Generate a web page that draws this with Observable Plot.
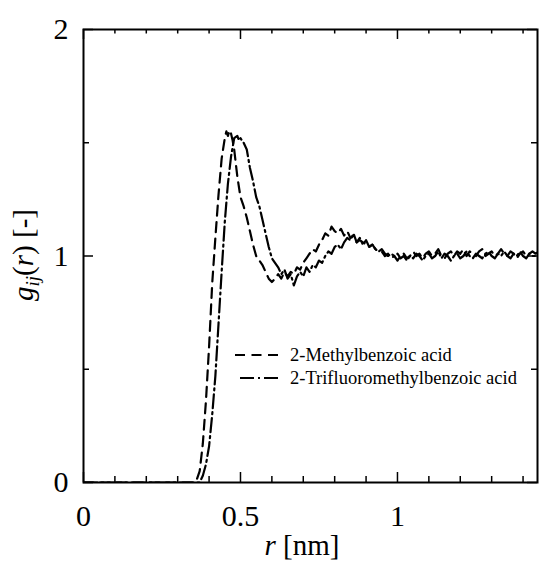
<!DOCTYPE html>
<html><head><meta charset="utf-8">
<script src="https://cdn.jsdelivr.net/npm/d3@7"></script>
<script src="https://cdn.jsdelivr.net/npm/@observablehq/plot@0.6"></script>
<style>body{margin:0;background:#fff}</style>
</head><body><div id="chart"></div>
<script>
const seriesNames = ["2-Methylbenzoic acid", "2-Trifluoromethylbenzoic acid"];

const rMethyl = [0, 0.35, 0.36, 0.37, 0.38, 0.39, 0.40, 0.41, 0.42, 0.43, 0.44, 0.45, 0.455, 0.46, 0.465, 0.47, 0.475, 0.48, 0.49, 0.50, 0.51, 0.52, 0.53, 0.54, 0.55, 0.56, 0.57, 0.58, 0.59, 0.60,
  0.61, 0.62, 0.63, 0.64, 0.65, 0.66, 0.67, 0.68, 0.69, 0.70, 0.71, 0.72, 0.73, 0.74, 0.75, 0.76, 0.77, 0.78, 0.79, 0.80,
  0.81, 0.82, 0.83, 0.84, 0.85, 0.86, 0.87, 0.88, 0.89, 0.90, 0.91, 0.92, 0.93, 0.94, 0.95,
  0.96, 0.97, 0.98, 0.99, 1.00, 1.01, 1.02, 1.03, 1.04, 1.05, 1.06, 1.07, 1.08, 1.09, 1.10, 1.11, 1.12, 1.13, 1.14, 1.15,
  1.16, 1.17, 1.18, 1.19, 1.20, 1.21, 1.22, 1.23, 1.24, 1.25, 1.26, 1.27, 1.28, 1.29, 1.30, 1.31, 1.32, 1.33, 1.34, 1.35,
  1.36, 1.37, 1.38, 1.39, 1.40, 1.41, 1.42, 1.43, 1.44, 1.45];
const gMethyl = [0, 0, 0.01, 0.05, 0.17, 0.36, 0.60, 0.88, 1.08, 1.27, 1.43, 1.52, 1.55, 1.53, 1.555, 1.54, 1.51, 1.47, 1.35, 1.26, 1.22, 1.17, 1.11, 1.05, 1.00, 0.98, 0.96, 0.93, 0.90, 0.885,
  0.90, 0.92, 0.90, 0.93, 0.91, 0.93, 0.92, 0.95, 0.94, 0.97, 0.99, 1.01, 1.03, 1.02, 1.05, 1.07, 1.10, 1.09, 1.13, 1.11,
  1.10, 1.12, 1.09, 1.11, 1.08, 1.09, 1.06, 1.07, 1.06, 1.05, 1.04, 1.05, 1.03, 1.02, 1.02,
  1.00, 1.01, 0.99, 1.00, 0.98, 1.00, 1.01, 0.99, 1.00, 1.02, 1.00, 1.01, 0.99, 1.01, 1.02, 1.00, 1.01, 1.03, 1.00, 0.99,
  1.01, 1.02, 1.00, 1.02, 1.01, 1.03, 1.00, 1.02, 1.01, 1.00, 1.02, 1.03, 1.00, 1.01, 1.02, 1.00, 1.01, 1.03, 1.01, 1.00,
  1.02, 1.01, 0.99, 1.01, 1.02, 1.00, 1.01, 1.02, 1.01, 1.02];

const rTrifluoro = [0, 0.37, 0.38, 0.39, 0.40, 0.41, 0.42, 0.43, 0.44, 0.45, 0.46, 0.47, 0.48, 0.49, 0.495, 0.50, 0.51, 0.52, 0.53, 0.54, 0.55, 0.56, 0.57, 0.58, 0.59, 0.60,
  0.61, 0.62, 0.63, 0.64, 0.65, 0.66, 0.67, 0.68, 0.69, 0.70, 0.71, 0.72, 0.73, 0.74, 0.75, 0.76, 0.77, 0.78, 0.79, 0.80,
  0.81, 0.82, 0.83, 0.84, 0.85, 0.86, 0.87, 0.88, 0.89, 0.90, 0.91, 0.92, 0.93, 0.94, 0.95, 0.96, 0.97,
  0.98, 0.99, 1.00, 1.01, 1.02, 1.03, 1.04, 1.05, 1.06, 1.07, 1.08, 1.09, 1.10, 1.11, 1.12, 1.13, 1.14, 1.15,
  1.16, 1.17, 1.18, 1.19, 1.20, 1.21, 1.22, 1.23, 1.24, 1.25, 1.26, 1.27, 1.28, 1.29, 1.30, 1.31, 1.32, 1.33, 1.34, 1.35,
  1.36, 1.37, 1.38, 1.39, 1.40, 1.41, 1.42, 1.43, 1.44, 1.45];
const gTrifluoro = [0, 0, 0.03, 0.08, 0.16, 0.30, 0.47, 0.70, 0.93, 1.15, 1.32, 1.44, 1.52, 1.53, 1.51, 1.52, 1.50, 1.47, 1.39, 1.33, 1.26, 1.22, 1.16, 1.10, 1.04, 0.99,
  0.97, 0.95, 0.92, 0.94, 0.90, 0.92, 0.87, 0.91, 0.93, 0.91, 0.95, 0.93, 0.96, 0.95, 0.98, 0.97, 1.00, 1.02, 1.01, 1.04,
  1.05, 1.03, 1.06, 1.08, 1.07, 1.10, 1.06, 1.08, 1.05, 1.07, 1.04, 1.05, 1.03, 1.02, 1.03, 1.01, 1.00,
  1.01, 1.00, 1.01, 0.99, 1.00, 0.98, 1.00, 0.99, 1.01, 1.00, 0.98, 1.00, 1.01, 0.99, 1.00, 1.02, 0.99, 1.01,
  1.00, 0.98, 1.00, 1.01, 0.99, 1.00, 1.02, 1.00, 0.99, 1.01, 1.00, 0.99, 1.01, 1.02, 1.00, 0.99, 1.01, 1.00, 1.02, 1.00,
  0.99, 1.01, 1.00, 1.02, 1.00, 0.99, 1.01, 1.00, 1.00, 1.01];

const xMajorTicks = [0, 0.5, 1];
const xMinorTicks = [0.1, 0.2, 0.3, 0.4, 0.6, 0.7, 0.8, 0.9, 1.1, 1.2, 1.3, 1.4];
const yMajorTicks = [0, 1, 2];
const yMinorTicks = [0.5, 1.5];

const methylData = rMethyl.map((r, i) => ({r, g: gMethyl[i]}));
const trifluoroData = rTrifluoro.map((r, i) => ({r, g: gTrifluoro[i]}));

const dashes = ["10,6.5", "14,4,2,4"];

const W = 539, H = 562;
const mL = 83, mR = 2, mT = 29, mB = 80;
const fW = W - mL - mR, fH = H - mT - mB;
const majorLen = 10, minorLen = 6;
const serif = "'Liberation Serif', 'Times New Roman', serif";

function legendMark(index, scales, values, dims) {
  const g = d3.create("svg:g");
  const x0 = dims.marginLeft, y0 = dims.marginTop;
  const items = [
    {name: seriesNames[0], dash: dashes[0], x1: 152, x2: 197, y: 326},
    {name: seriesNames[1], dash: dashes[1], x1: 157, x2: 197, y: 349}
  ];
  for (const it of items) {
    g.append("line")
      .attr("x1", x0 + it.x1).attr("x2", x0 + it.x2)
      .attr("y1", y0 + it.y).attr("y2", y0 + it.y)
      .attr("stroke", "black").attr("stroke-width", 2.2)
      .attr("stroke-dasharray", it.dash);
    g.append("text")
      .attr("x", x0 + 207).attr("y", y0 + it.y + 6)
      .attr("text-anchor", "start")
      .attr("font-family", serif)
      .attr("font-size", 18.5).attr("fill", "black")
      .text(it.name);
  }
  return g.node();
}

const svg = Plot.plot({
  width: W, height: H,
  marginLeft: mL, marginRight: mR, marginTop: mT, marginBottom: mB,
  style: {fontFamily: serif, fontSize: "30px", color: "black", background: "white"},
  x: {domain: [0, 1.446], ticks: xMajorTicks, tickSize: 0, tickPadding: 22, tickFormat: d => String(d), label: null},
  y: {domain: [0, 2], ticks: yMajorTicks, tickSize: 0, tickPadding: 15, tickFormat: d => String(d), label: null},
  marks: [
    Plot.line(methylData, {x: "r", y: "g", stroke: "black", strokeWidth: 2.2, strokeDasharray: dashes[0], clip: true}),
    Plot.line(trifluoroData, {x: "r", y: "g", stroke: "black", strokeWidth: 2.2, strokeDasharray: dashes[1], clip: true}),
    Plot.tickX(xMajorTicks, {x: d => d, insetTop: fH - majorLen, strokeWidth: 1.5}),
    Plot.tickX(xMajorTicks, {x: d => d, insetBottom: fH - majorLen, strokeWidth: 1.5}),
    Plot.tickX(xMinorTicks, {x: d => d, insetTop: fH - minorLen, strokeWidth: 1.5}),
    Plot.tickX(xMinorTicks, {x: d => d, insetBottom: fH - minorLen + 1.5, strokeWidth: 1.5}),
    Plot.tickY(yMajorTicks, {y: d => d, insetRight: fW - majorLen, strokeWidth: 1.5}),
    Plot.tickY(yMajorTicks, {y: d => d, insetLeft: fW - majorLen, strokeWidth: 1.5}),
    Plot.tickY(yMinorTicks, {y: d => d, insetRight: fW - minorLen, strokeWidth: 1.5}),
    Plot.tickY(yMinorTicks, {y: d => d, insetLeft: fW - minorLen, strokeWidth: 1.5}),
    Plot.frame({stroke: "black", strokeWidth: 2}),
    legendMark
  ]
});

const s = d3.select(svg);
// x-axis label
const xl = s.append("text").attr("x", 302).attr("y", 555).attr("text-anchor", "middle")
  .attr("font-family", serif).attr("font-size", 29).attr("fill", "black");
xl.append("tspan").attr("font-style", "italic").text("r");
xl.append("tspan").text(" [nm]");
// y-axis label
const yl = s.append("text").attr("transform", "translate(33,255) rotate(-90)")
  .attr("text-anchor", "middle").attr("font-family", serif).attr("font-size", 29).attr("fill", "black");
yl.append("tspan").attr("font-style", "italic").text("g");
yl.append("tspan").attr("font-style", "italic").attr("font-size", 19).attr("dy", 6).text("ij");
yl.append("tspan").attr("dy", -6).text("(");
yl.append("tspan").attr("font-style", "italic").text("r");
yl.append("tspan").text(") [-]");

document.getElementById("chart").appendChild(svg);
</script>
</body></html>
